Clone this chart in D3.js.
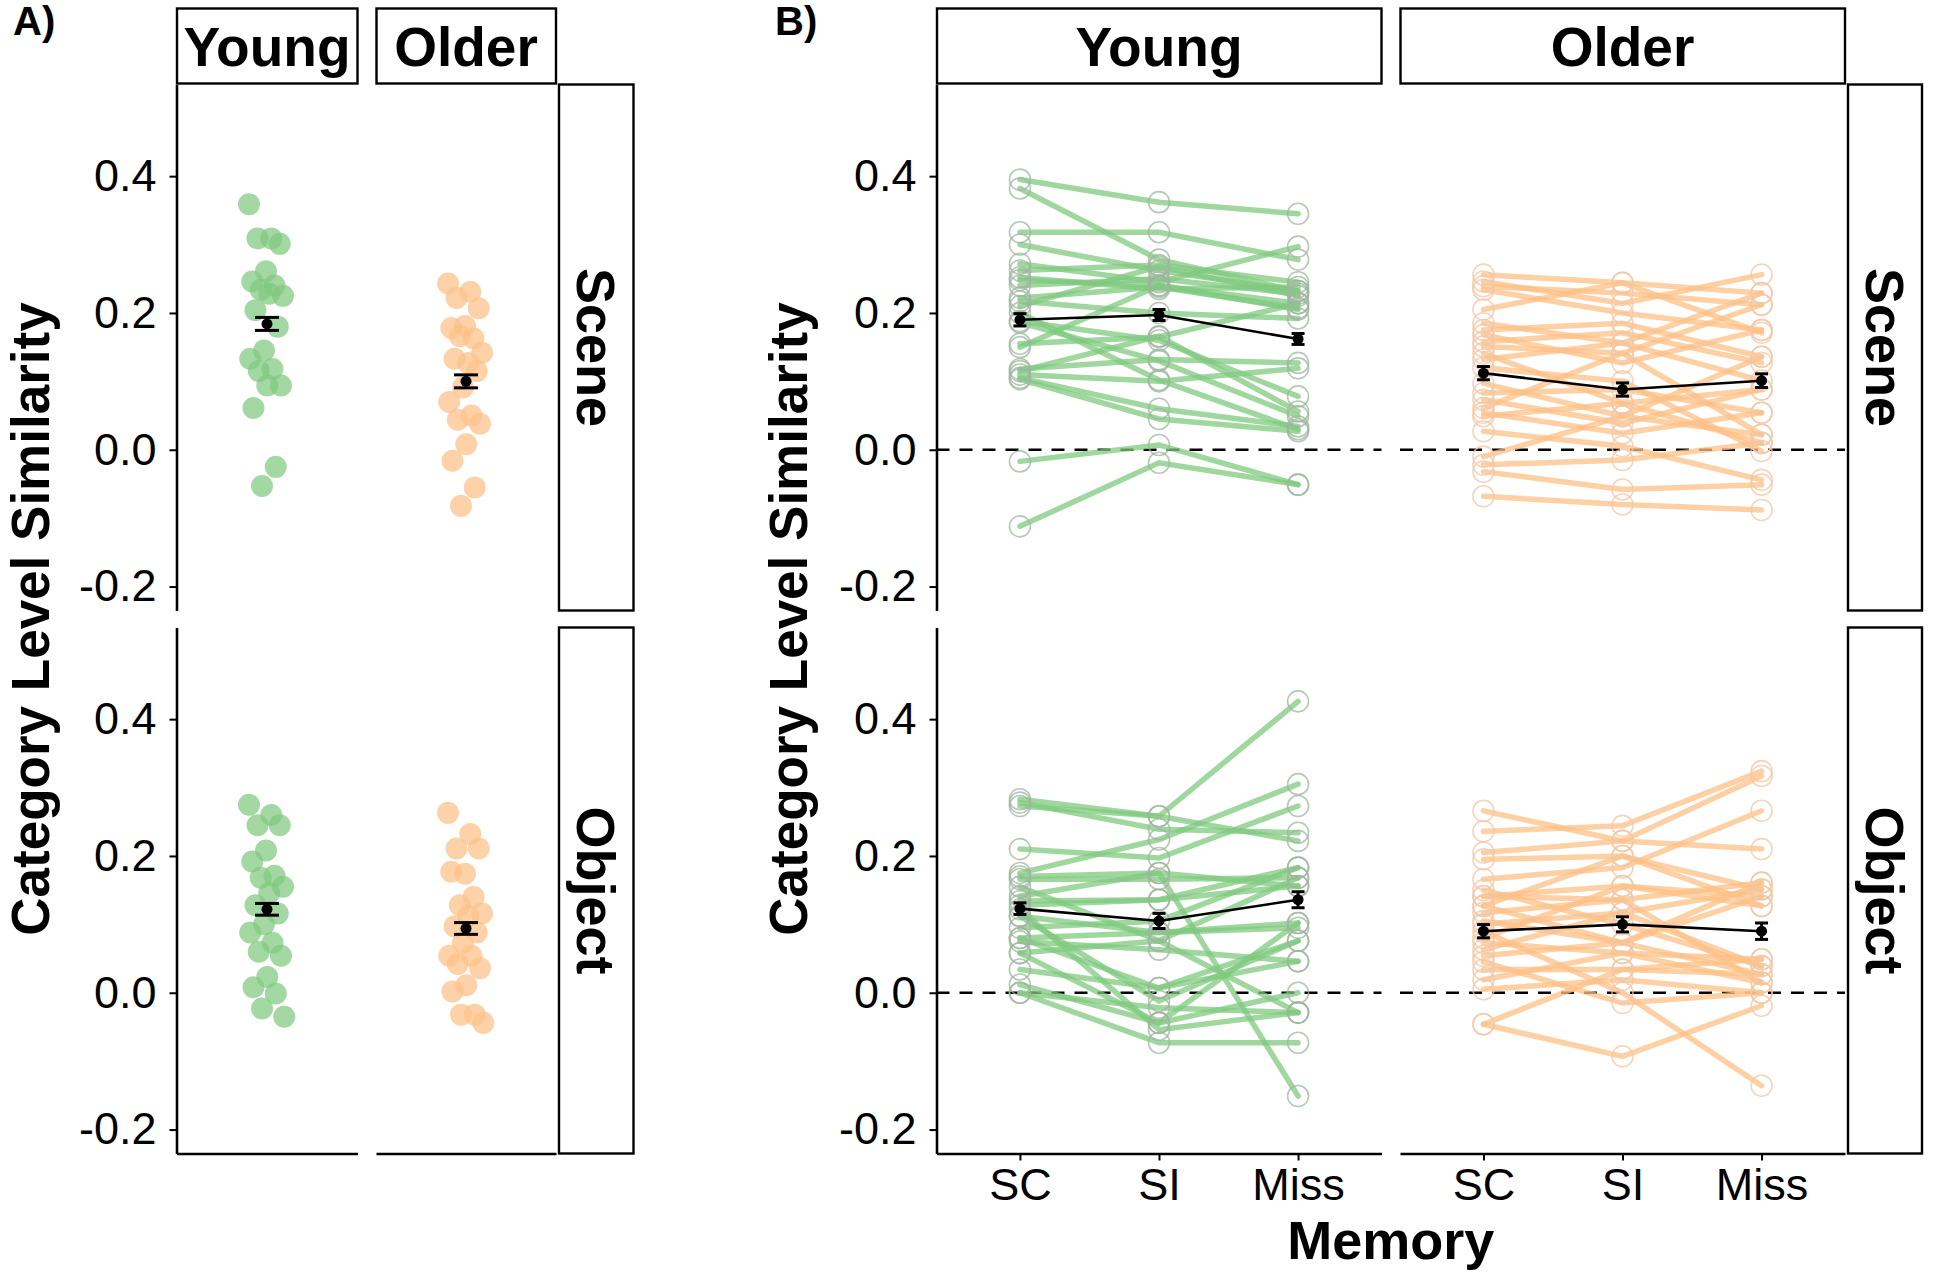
<!DOCTYPE html>
<html><head><meta charset="utf-8">
<script src="https://cdn.jsdelivr.net/npm/d3@7"></script>
<style>
body{margin:0;background:#fff}
svg{display:block}
text{font-family:"Liberation Sans",Arial,Helvetica,sans-serif;fill:#000}
</style>
</head><body>
<svg id="chart" width="1933" height="1279"></svg>
<script>
// ---------------- DATA ----------------
const groups = ["Young", "Older"];
const rows = ["Scene", "Object"];
const memory = ["SC", "SI", "Miss"];
const yTicks = [-0.2, 0.0, 0.2, 0.4];
const yTickLabels = ["-0.2", "0.0", "0.2", "0.4"];
const yTitle = "Category Level Similarity";
const xTitle = "Memory";

// Panel A: one value per participant
const aSceneYoung = [0.359, 0.309, 0.309, 0.301, 0.261, 0.246, 0.240, 0.234, 0.225, 0.228, 0.204,
  0.180, 0.145, 0.133, 0.118, 0.115, 0.094, 0.094, 0.061, -0.025, -0.053];
const aSceneOlder = [0.243, 0.231, 0.222, 0.207, 0.181, 0.178, 0.163, 0.166, 0.142, 0.127, 0.133,
  0.115, 0.091, 0.070, 0.050, 0.044, 0.038, 0.008, -0.016, -0.055, -0.082];
const aObjectYoung = [0.275, 0.260, 0.245, 0.245, 0.208, 0.192, 0.171, 0.168, 0.155, 0.146, 0.128,
  0.116, 0.100, 0.088, 0.073, 0.060, 0.054, 0.023, 0.008, -0.001, -0.023, -0.035];
const aObjectOlder = [0.263, 0.232, 0.211, 0.211, 0.174, 0.177, 0.140, 0.128, 0.116, 0.112, 0.097,
  0.088, 0.073, 0.054, 0.054, 0.042, 0.036, 0.011, 0.002, -0.032, -0.032, -0.044];
const aSceneMean = [0.184, 0.100];
const aSceneSE = [0.0095, 0.0095];
const aObjectMean = [0.122, 0.094];
const aObjectSE = [0.0086, 0.0086];

// Panel B: [SC, SI, Miss] per participant
const bSceneYoung = [
  [0.395, 0.362, 0.345], [0.382, 0.278, 0.232], [0.318, 0.318, 0.278], [0.300, 0.262, 0.232],
  [0.272, 0.245, 0.297], [0.262, 0.270, 0.245], [0.252, 0.235, 0.238], [0.248, 0.240, 0.214],
  [0.240, 0.250, 0.228], [0.222, 0.238, 0.207], [0.217, 0.200, 0.192], [0.210, 0.268, 0.225],
  [0.188, 0.160, 0.078], [0.186, 0.130, 0.049], [0.155, 0.165, 0.214], [0.150, 0.240, 0.205],
  [0.118, 0.132, 0.127], [0.110, 0.100, 0.119], [0.105, 0.060, 0.034], [0.103, 0.045, 0.027],
  [0.115, 0.166, 0.056], [-0.017, 0.007, -0.051], [-0.112, -0.019, -0.051], [0.200, 0.102, 0.030]
];
const bSceneOlder = [
  [0.256, 0.244, 0.229], [0.246, 0.214, 0.256], [0.239, 0.229, 0.212], [0.234, 0.200, 0.175],
  [0.205, 0.244, 0.171], [0.185, 0.156, 0.229], [0.175, 0.185, 0.136], [0.168, 0.127, 0.175],
  [0.158, 0.171, 0.127], [0.151, 0.141, 0.212], [0.141, 0.068, 0.088], [0.132, 0.156, 0.101],
  [0.097, 0.049, 0.136], [0.083, 0.088, 0.054], [0.073, 0.039, 0.088], [0.061, 0.141, 0.022],
  [0.054, 0.024, 0.054], [0.049, 0.068, 0.010], [0.027, 0.005, -0.044], [-0.010, 0.049, 0.022],
  [-0.022, -0.015, 0.010], [-0.032, -0.058, -0.051], [-0.068, -0.080, -0.088], [0.120, 0.100, -0.002]
];
const bObjectYoung = [
  [0.283, 0.258, 0.222], [0.278, 0.239, 0.234], [0.273, 0.258, 0.426], [0.210, 0.197, 0.273],
  [0.175, 0.224, 0.305], [0.170, 0.175, 0.156], [0.166, 0.166, 0.168], [0.141, 0.175, -0.151],
  [0.134, 0.136, 0.183], [0.122, -0.054, -0.029], [0.128, 0.136, 0.156], [0.112, 0.088, 0.102],
  [0.080, 0.088, 0.095], [0.075, 0.063, 0.046], [0.058, 0.076, 0.168], [0.034, 0.007, 0.076],
  [0.012, -0.044, 0.000], [0.000, -0.073, -0.073], [0.000, -0.022, -0.029], [0.058, -0.044, 0.102],
  [0.095, 0.105, 0.183], [0.155, 0.076, -0.029], [0.080, 0.007, 0.046], [0.112, -0.012, 0.076]
];
const bObjectOlder = [
  [0.266, 0.222, 0.210], [0.236, 0.244, 0.324], [0.205, 0.222, 0.317], [0.195, 0.200, 0.151],
  [0.166, 0.183, 0.266], [0.141, 0.156, 0.141], [0.127, 0.200, 0.127], [0.117, 0.136, 0.161],
  [0.100, 0.117, 0.151], [0.073, 0.058, 0.049], [0.063, 0.117, 0.039], [0.054, 0.073, 0.141],
  [0.034, 0.034, 0.027], [0.019, 0.058, 0.015], [0.005, 0.019, 0.000], [-0.046, 0.034, 0.049],
  [-0.046, -0.093, -0.019], [0.090, 0.000, -0.136], [0.127, 0.073, 0.027], [0.141, 0.136, 0.015],
  [0.080, 0.156, 0.127], [0.045, -0.015, 0.000], [0.105, 0.073, 0.161], [0.150, 0.100, 0.039]
];
const bSceneYoungMean = [0.190, 0.197, 0.162];
const bSceneYoungSE = [0.009, 0.008, 0.008];
const bSceneOlderMean = [0.112, 0.088, 0.101];
const bSceneOlderSE = [0.0097, 0.0097, 0.010];
const bObjectYoungMean = [0.123, 0.105, 0.136];
const bObjectYoungSE = [0.0085, 0.011, 0.0117];
const bObjectOlderMean = [0.090, 0.100, 0.090];
const bObjectOlderSE = [0.0097, 0.011, 0.012];

// ---------------- LAYOUT / STYLE ----------------
const fillCol = ["#7FC97F", "#FDC086"];
const ringCol = ["#9db59d", "#f1c7a5"];
const yDomain = [-0.235, 0.534];
const rowY = [[84.5, 610.5], [627.5, 1153.5]];
const stripTop = 8.5, stripH = 75;
const panelA = { cols: [[176.5, 357.5], [376, 556]], rstrip: [559, 633.5] };
const panelB = { cols: [[936.5, 1381.5], [1400, 1845]], rstrip: [1848, 1922] };

const svg = d3.select("#chart");
svg.append("rect").attr("width", 1933).attr("height", 1279).attr("fill", "#fff");

const aData = [[aSceneYoung, aSceneOlder], [aObjectYoung, aObjectOlder]];
const aMean = [aSceneMean, aObjectMean];
const aSE = [aSceneSE, aObjectSE];
const bData = [[bSceneYoung, bSceneOlder], [bObjectYoung, bObjectOlder]];
const bMean = [[bSceneYoungMean, bSceneOlderMean], [bObjectYoungMean, bObjectOlderMean]];
const bSE = [[bSceneYoungSE, bSceneOlderSE], [bObjectYoungSE, bObjectOlderSE]];

const yScales = rowY.map(r => d3.scaleLinear().domain(yDomain).range([r[1], r[0]]));
const jit = i => (((i * 0.6180339887) % 1) - 0.5) * 2;

function styleAxis(g) {
  g.select(".domain").attr("stroke", "#000").attr("stroke-width", 2.6);
  g.selectAll(".tick line").attr("stroke", "#000").attr("stroke-width", 2);
  g.selectAll(".tick text").attr("font-size", 45).attr("fill", "#111")
    .style("font-family", '"Liberation Sans",Arial,sans-serif');
}

function strips(P) {
  P.cols.forEach((c, ci) => {
    svg.append("rect").attr("x", c[0] + 0.5).attr("y", stripTop).attr("width", c[1] - c[0] - 0.5)
      .attr("height", stripH).attr("fill", "#fff").attr("stroke", "#000").attr("stroke-width", 2.4);
    svg.append("text").attr("x", (c[0] + c[1]) / 2).attr("y", stripTop + stripH / 2)
      .attr("dy", "0.36em").attr("text-anchor", "middle").attr("font-weight", "bold")
      .attr("font-size", 55).text(groups[ci]);
  });
  rowY.forEach((r, ri) => {
    svg.append("rect").attr("x", P.rstrip[0]).attr("y", r[0]).attr("width", P.rstrip[1] - P.rstrip[0])
      .attr("height", r[1] - r[0]).attr("fill", "#fff").attr("stroke", "#000").attr("stroke-width", 2.4);
    svg.append("text").attr("transform", `translate(${(P.rstrip[0] + P.rstrip[1]) / 2},${(r[0] + r[1]) / 2}) rotate(90)`)
      .attr("dy", "0.36em").attr("text-anchor", "middle").attr("font-weight", "bold")
      .attr("font-size", 54).text(rows[ri]);
  });
}

function leftAxes(P) {
  rowY.forEach((r, ri) => {
    const g = svg.append("g").attr("transform", `translate(${P.cols[0][0]},0)`)
      .call(d3.axisLeft(yScales[ri]).tickValues(yTicks).tickFormat((d, i) => yTickLabels[i])
        .tickSize(7).tickPadding(13).tickSizeOuter(0));
    styleAxis(g);
  });
}

// ---------- Panel A ----------
strips(panelA);
rows.forEach((rn, ri) => {
  const y = yScales[ri];
  panelA.cols.forEach((c, ci) => {
    const x = d3.scalePoint().domain([groups[ci]]).range(c).padding(0.5);
    const g = svg.append("g");
    g.selectAll("circle.pt").data(aData[ri][ci]).join("circle").attr("class", "pt")
      .attr("cx", (d, i) => x(groups[ci]) + jit(i) * 18)
      .attr("cy", d => y(d)).attr("r", 11)
      .attr("fill", fillCol[ci]).attr("fill-opacity", 0.72);
    const m = aMean[ri][ci], s = aSE[ri][ci], cx = x(groups[ci]);
    g.append("line").attr("x1", cx).attr("x2", cx).attr("y1", y(m - s)).attr("y2", y(m + s))
      .attr("stroke", "#000").attr("stroke-width", 3);
    [m - s, m + s].forEach(v => g.append("line").attr("x1", cx - 12).attr("x2", cx + 12)
      .attr("y1", y(v)).attr("y2", y(v)).attr("stroke", "#000").attr("stroke-width", 3));
    g.append("circle").attr("cx", cx).attr("cy", y(m)).attr("r", 5.5).attr("fill", "#000");
    if (ri === 1) {
      const ax = svg.append("g").attr("transform", `translate(0,${rowY[1][1]})`)
        .call(d3.axisBottom(x).tickValues([]).tickSizeOuter(0));
      styleAxis(ax);
    }
  });
});
leftAxes(panelA);

// ---------- Panel B ----------
strips(panelB);
rows.forEach((rn, ri) => {
  const y = yScales[ri];
  panelB.cols.forEach((c, ci) => {
    const x = d3.scalePoint().domain(memory).range(c).padding(0.6);
    const g = svg.append("g");
    g.append("line").attr("x1", c[0]).attr("x2", c[1]).attr("y1", y(0)).attr("y2", y(0))
      .attr("stroke", "#000").attr("stroke-width", 2.4).attr("stroke-dasharray", "13,10");
    const line = d3.line().x((d, j) => x(memory[j])).y(d => y(d));
    g.selectAll("path.subj").data(bData[ri][ci]).join("path").attr("class", "subj")
      .attr("d", line).attr("fill", "none").attr("stroke", fillCol[ci])
      .attr("stroke-width", 5.5).attr("stroke-opacity", 0.75).attr("stroke-linecap", "round");
    const pts = bData[ri][ci].flatMap(row => row.map((v, j) => ({ v, j })));
    g.selectAll("circle.ring").data(pts).join("circle").attr("class", "ring")
      .attr("cx", d => x(memory[d.j])).attr("cy", d => y(d.v)).attr("r", 10.5)
      .attr("fill", "none").attr("stroke", ringCol[ci]).attr("stroke-width", 1.6).attr("stroke-opacity", 0.75);
    const means = bMean[ri][ci], ses = bSE[ri][ci];
    g.append("path").attr("d", d3.line().x((d, j) => x(memory[j])).y(d => y(d))(means))
      .attr("fill", "none").attr("stroke", "#000").attr("stroke-width", 2.6);
    means.forEach((m, j) => {
      const cx = x(memory[j]), s = ses[j];
      g.append("line").attr("x1", cx).attr("x2", cx).attr("y1", y(m - s)).attr("y2", y(m + s))
        .attr("stroke", "#000").attr("stroke-width", 3);
      [m - s, m + s].forEach(v => g.append("line").attr("x1", cx - 6.5).attr("x2", cx + 6.5)
        .attr("y1", y(v)).attr("y2", y(v)).attr("stroke", "#000").attr("stroke-width", 3));
      g.append("circle").attr("cx", cx).attr("cy", y(m)).attr("r", 5.5).attr("fill", "#000");
    });
    if (ri === 1) {
      const ax = svg.append("g").attr("transform", `translate(0,${rowY[1][1]})`)
        .call(d3.axisBottom(x).tickSize(7).tickPadding(8).tickSizeOuter(0));
      styleAxis(ax);
    }
  });
});
leftAxes(panelB);

// ---------- Titles ----------
[49, 807].forEach(bx => {
  svg.append("text").attr("transform", `translate(${bx},${(rowY[0][0] + rowY[1][1]) / 2}) rotate(-90)`)
    .attr("text-anchor", "middle").attr("font-weight", "bold").attr("font-size", 53).text(yTitle);
});
svg.append("text").attr("x", (panelB.cols[0][0] + panelB.cols[1][1]) / 2).attr("y", 1259)
  .attr("text-anchor", "middle").attr("font-weight", "bold").attr("font-size", 54).text(xTitle);
svg.append("text").attr("x", 13).attr("y", 35).attr("font-weight", "bold").attr("font-size", 40).text("A)");
svg.append("text").attr("x", 775).attr("y", 35).attr("font-weight", "bold").attr("font-size", 40).text("B)");
</script>
</body></html>
